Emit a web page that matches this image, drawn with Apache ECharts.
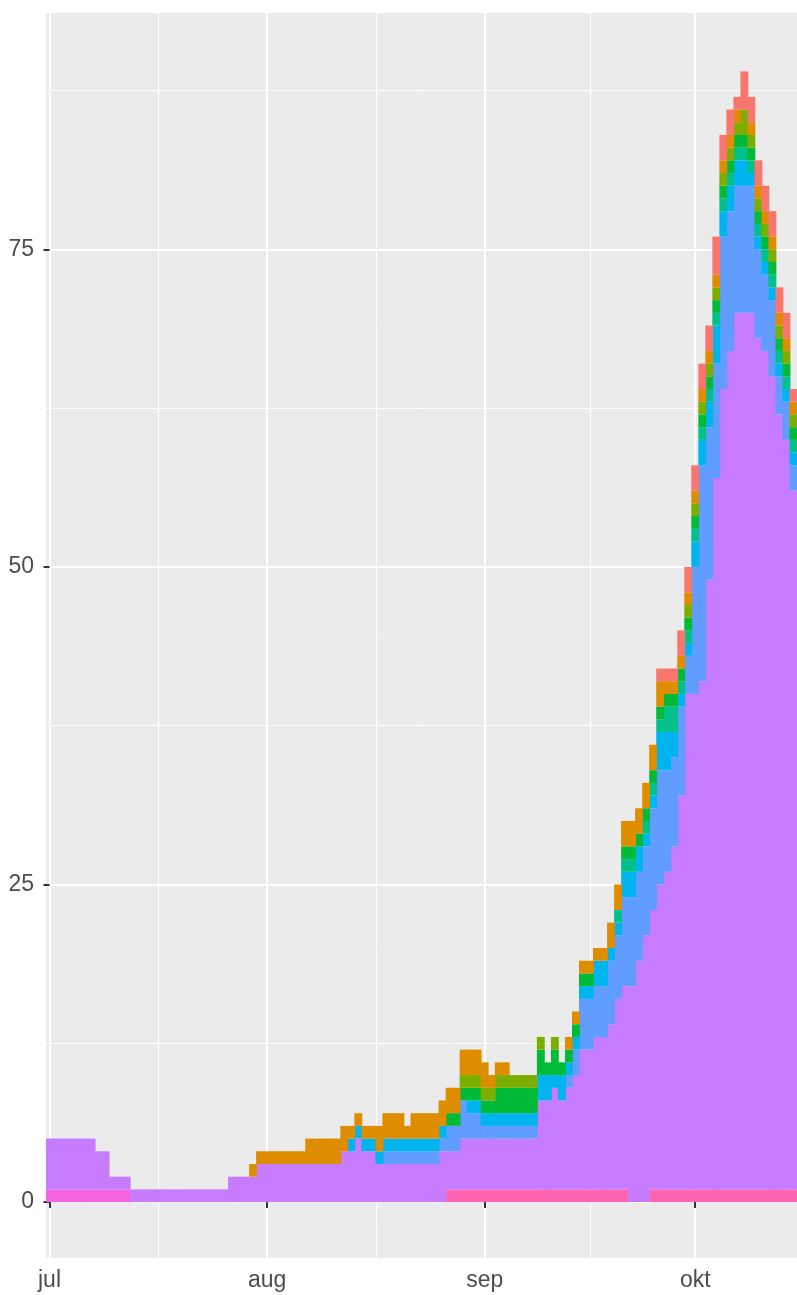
<!DOCTYPE html>
<html>
<head>
<meta charset="utf-8">
<script src="https://cdn.jsdelivr.net/npm/echarts@6.0.0/dist/echarts.min.js"></script>
<style>
  html, body { margin: 0; padding: 0; background: #fff; }
  #chart { width: 797px; height: 1295px; }
</style>
</head>
<body>
<div id="chart"></div>
<script>
// dager fra 1. juli (indeks 0) til 15. oktober (indeks 106)
const days = [];
for (let i = 0; i < 107; i++) {
  const d = new Date(Date.UTC(2020, 6, 1 + i));
  days.push(d.toISOString().slice(0, 10));
}
const monthTicks = [0, 31, 62, 92];       // jul, aug, sep, okt (dagindeks)
const monthLabels = ['jul', 'aug', 'sep', 'okt'];
const midTicks = [15.5, 46.5, 77];        // ggplot minor breaks
const yTicks = [0, 25, 50, 75];
const yMinor = [12.5, 37.5, 62.5, 87.5];

// verdier per dag, lest av bildet (nederst -> øverst)
const pink = [
  0,0,0,0,0,0,0,0,0,0, 0,0,0,0,0,0,0,0,0,0, 0,0,0,0,0,0,0,0,0,0,
  0,0,0,0,0,0,0,0,0,0, 0,0,0,0,0,0,0,0,0,0, 0,0,0,0,0,0,0,1,1,1,
  1,1,1,1,1,1,1,1,1,1, 1,1,1,1,1,1,1,1,1,1, 1,1,1,0,0,0,1,1,1,1,
  1,1,1,1,1,1,1,1,1,1, 1,1,1,1,1,1,1
];
const magenta = [
  1,1,1,1,1,1,1,1,1,1, 1,1,0,0,0,0,0,0,0,0, 0,0,0,0,0,0,0,0,0,0,
  0,0,0,0,0,0,0,0,0,0, 0,0,0,0,0,0,0,0,0,0, 0,0,0,0,0,0,0,0,0,0,
  0,0,0,0,0,0,0,0,0,0, 0,0,0,0,0,0,0,0,0,0, 0,0,0,0,0,0,0,0,0,0,
  0,0,0,0,0,0,0,0,0,0, 0,0,0,0,0,0,0
];
const purple = [
  4,4,4,4,4,4,4,3,3,1, 1,1,1,1,1,1,1,1,1,1, 1,1,1,1,1,1,2,2,2,2,
  3,3,3,3,3,3,3,3,3,3, 3,3,4,4,5,4,4,3,3,3, 3,3,3,3,3,3,4,3,3,4,
  4,4,4,4,4,4,4,4,4,4, 7,7,8,7,8,9,11,11,12,12, 13,15,16,17,19,21,22,24,25,27,
  31,39,39,40,48,56,63,66,69,69, 69,67,66,64,61,59,55
];
const blue = [
  0,0,0,0,0,0,0,0,0,0, 0,0,0,0,0,0,0,0,0,0, 0,0,0,0,0,0,0,0,0,0,
  0,0,0,0,0,0,0,0,0,0, 0,0,0,0,0,0,0,0,1,1, 1,1,1,1,1,1,1,2,2,3,
  2,2,1,1,1,1,1,1,1,1, 0,0,0,0,1,2,4,4,4,4, 5,5,7,7,7,7,8,9,8,7,
  7,3,10,17,12,9,12,11,10,10, 10,7,6,6,3,3,2
];
const cyan = [
  0,0,0,0,0,0,0,0,0,0, 0,0,0,0,0,0,0,0,0,0, 0,0,0,0,0,0,0,0,0,0,
  0,0,0,0,0,0,0,0,0,0, 0,0,0,1,1,1,1,1,1,1, 1,1,1,1,1,1,1,0,0,0,
  1,1,1,1,1,1,1,1,1,1, 2,2,1,2,1,1,1,1,2,2, 1,1,2,2,2,1,1,3,3,2,
  1,1,2,2,2,3,2,2,2,2, 1,1,1,1,1,1,1
];
const teal = [
  0,0,0,0,0,0,0,0,0,0, 0,0,0,0,0,0,0,0,0,0, 0,0,0,0,0,0,0,0,0,0,
  0,0,0,0,0,0,0,0,0,0, 0,0,0,0,0,0,0,0,0,0, 0,0,0,0,0,0,0,0,0,0,
  0,0,0,0,0,0,0,0,0,0, 0,0,0,0,0,0,0,0,0,0, 0,1,1,1,0,1,1,1,2,2,
  1,1,1,1,1,1,1,1,1,1, 1,1,1,1,1,1,1
];
const green = [
  0,0,0,0,0,0,0,0,0,0, 0,0,0,0,0,0,0,0,0,0, 0,0,0,0,0,0,0,0,0,0,
  0,0,0,0,0,0,0,0,0,0, 0,0,0,0,0,0,0,0,0,0, 0,0,0,0,0,0,0,1,1,1,
  1,1,1,1,2,2,2,2,2,2, 2,1,2,1,1,1,1,1,0,0, 0,0,1,1,1,1,1,1,1,1,
  1,1,1,1,1,1,1,1,1,1, 1,1,1,1,1,1,1
];
const olive = [
  0,0,0,0,0,0,0,0,0,0, 0,0,0,0,0,0,0,0,0,0, 0,0,0,0,0,0,0,0,0,0,
  0,0,0,0,0,0,0,0,0,0, 0,0,0,0,0,0,0,0,0,0, 0,0,0,0,0,0,0,0,0,1,
  1,1,1,1,1,1,1,1,1,1, 1,0,1,0,0,0,0,0,0,0, 0,0,0,0,0,0,0,0,0,0,
  0,1,1,1,1,1,1,1,1,2, 1,1,1,1,1,1,1
];
const orange = [
  0,0,0,0,0,0,0,0,0,0, 0,0,0,0,0,0,0,0,0,0, 0,0,0,0,0,0,0,0,0,1,
  1,1,1,1,1,1,1,2,2,2, 2,2,2,1,1,1,1,2,2,2, 2,1,2,2,2,2,2,2,2,2,
  2,2,2,1,1,1,0,0,0,0, 0,0,0,0,1,1,1,1,1,1, 2,2,2,2,2,2,2,2,1,1,
  1,1,1,1,1,1,1,1,1,0, 1,1,1,1,1,1,1
];
const red = [
  0,0,0,0,0,0,0,0,0,0, 0,0,0,0,0,0,0,0,0,0, 0,0,0,0,0,0,0,0,0,0,
  0,0,0,0,0,0,0,0,0,0, 0,0,0,0,0,0,0,0,0,0, 0,0,0,0,0,0,0,0,0,0,
  0,0,0,0,0,0,0,0,0,0, 0,0,0,0,0,0,0,0,0,0, 0,0,0,0,0,0,0,1,1,1,
  2,2,2,2,2,3,2,2,1,3, 2,2,2,2,2,2,1
];

const layers = [
  { name: 'l12', data: pink, color: '#FF64B0' },
  { name: 'l11', data: magenta, color: '#F564E3' },
  { name: 'l10', data: purple, color: '#C77CFF' },
  { name: 'l9', data: blue, color: '#619CFF' },
  { name: 'l8', data: cyan, color: '#00B4F0' },
  { name: 'l6', data: teal, color: '#00C08B' },
  { name: 'l5', data: green, color: '#00BA38' },
  { name: 'l4', data: olive, color: '#7CAE00' },
  { name: 'l2', data: orange, color: '#DE8C00' },
  { name: 'l1', data: red, color: '#F8766D' }
];

const labelFont = 'Liberation Sans, Arial, sans-serif';
const myChart = echarts.init(document.getElementById('chart'));

const option = {
  animation: false,
  backgroundColor: '#ffffff',
  grid: {
    left: 46,
    right: 0,
    top: 13,
    bottom: 37,
    show: true,
    backgroundColor: '#EBEBEB',
    borderWidth: 0
  },
  xAxis: [
    {
      // kategorier for søylene
      type: 'category',
      data: days,
      show: false,
      boundaryGap: true
    },
    {
      type: 'value',
      position: 'bottom',
      min: -0.5,
      max: 106.5,
      axisLine: { show: false },
      axisTick: {
        show: true,
        length: 6,
        customValues: monthTicks,
        lineStyle: { color: '#333333', width: 2 }
      },
      axisLabel: {
        customValues: monthTicks,
        formatter: function (v) {
          return monthLabels[monthTicks.indexOf(Math.round(v))];
        },
        color: '#4D4D4D',
        fontSize: 23,
        fontFamily: labelFont,
        margin: 11
      },
      splitLine: { show: true, lineStyle: { color: '#ffffff', width: 2 } }
    },
    {
      // minor grid
      type: 'value',
      position: 'bottom',
      min: -0.5,
      max: 106.5,
      axisLine: { show: false },
      axisTick: { show: false, customValues: midTicks },
      axisLabel: { show: false },
      splitLine: { show: true, lineStyle: { color: '#ffffff', width: 1 } }
    }
  ],
  yAxis: [
    {
      type: 'value',
      min: -4.4,
      max: 93.6,
      axisLine: { show: false },
      axisTick: {
        show: true,
        length: 6,
        customValues: yTicks,
        lineStyle: { color: '#333333', width: 2 }
      },
      axisLabel: {
        customValues: yTicks,
        color: '#4D4D4D',
        fontSize: 23,
        fontFamily: labelFont,
        margin: 12
      },
      splitLine: { show: true, lineStyle: { color: '#ffffff', width: 2 } }
    },
    {
      type: 'value',
      position: 'left',
      min: -4.4,
      max: 93.6,
      axisLine: { show: false },
      axisTick: { show: false, customValues: yMinor },
      axisLabel: { show: false },
      splitLine: { show: true, lineStyle: { color: '#ffffff', width: 1 } }
    }
  ],
  series: layers.map(function (l) {
    return {
      name: l.name,
      type: 'bar',
      stack: 'total',
      xAxisIndex: 0,
      yAxisIndex: 0,
      // litt overlapp mellom naboer, så det ikke blir lyse sømmer
      barWidth: '112%',
      data: l.data.map(v => (v === 0 ? null : v)),
      itemStyle: { color: l.color },
      emphasis: { disabled: true }
    };
  })
};

myChart.setOption(option, true);
window.addEventListener('resize', () => {
  if (myChart) {
    myChart.resize();
  }
});
</script>
</body>
</html>
